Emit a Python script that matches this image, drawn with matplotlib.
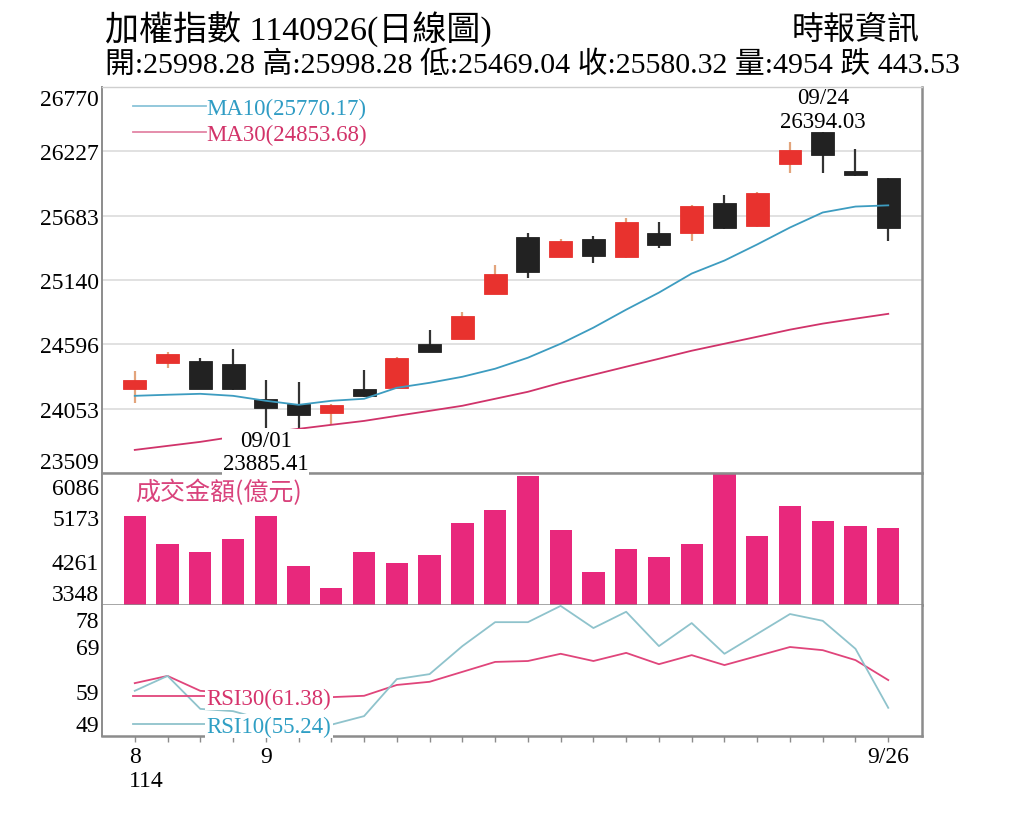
import numpy as np
import matplotlib.pyplot as plt
from matplotlib.transforms import ScaledTranslation

plt.rcParams['font.family'] = ['Liberation Serif', 'Noto Sans CJK TC']

dates = ['08/26', '08/27', '08/28', '08/29', '09/01', '09/02', '09/03', '09/04',
         '09/05', '09/08', '09/09', '09/10', '09/11', '09/12', '09/15', '09/16',
         '09/17', '09/18', '09/19', '09/22', '09/23', '09/24', '09/25', '09/26']

opens = [24220, 24440, 24457, 24432, 24136, 24093, 24017, 24220, 24229, 24601, 24644, 25025,
         25499, 25338, 25490, 25330, 25533, 25533, 25787, 25592, 26117, 26390, 26058, 25998.28]
highs = [24373, 24534, 24483, 24559, 24297, 24280, 24090, 24381, 24490, 24720, 24872, 25262,
         25533, 25482, 25507, 25660, 25626, 25770, 25854, 25880, 26303, 26394.03, 26244, 25998.28]
lows = [24102, 24398, 24217, 24212, 23885.41, 23890, 23915, 24155, 24225, 24528, 24640, 25020,
        25160, 25335, 25279, 25325, 25414, 25465, 25570, 25588, 26041, 26041, 26020, 25469.04]
closes = [24297, 24517, 24220, 24218, 24060, 24000, 24085, 24161, 24483, 24534, 24838, 25186,
          25211, 25465, 25346, 25626, 25431, 25761, 25575, 25871, 26235, 26193, 26023.85, 25580.32]

ma10 = [24161, 24170, 24178, 24161, 24119, 24085, 24119, 24136, 24229, 24271, 24322, 24390,
        24483, 24601, 24737, 24889, 25033, 25194, 25304, 25440, 25583, 25710, 25760, 25770.17]
ma30 = [23704, 23738, 23772, 23814, 23848, 23882, 23916, 23949, 23992, 24034, 24077, 24136,
        24195, 24271, 24339, 24407, 24474, 24542, 24601, 24660, 24720, 24771, 24813, 24853.68]

volume = [5194, 4613, 4447, 4717, 5194, 4157, 3701, 4447, 4219, 4385, 5049, 5318,
          6020, 4904, 4032, 4509, 4344, 4613, 6086, 4779, 5401, 5090, 4986, 4954]

rsi10 = [59.0, 62.3, 55.0, 54.5, 52.5, 51.0, 51.5, 53.4, 61.6, 62.7, 68.9, 74.2,
         74.2, 77.8, 72.9, 76.5, 68.9, 74.0, 67.2, 71.6, 76.0, 74.5, 68.3, 55.24]
rsi30 = [60.7, 62.3, 59.0, 58.5, 58.0, 57.5, 57.6, 57.9, 60.3, 61.0, 63.2, 65.4,
         65.6, 67.2, 65.6, 67.4, 64.9, 66.9, 64.7, 66.7, 68.7, 68.0, 65.8, 61.38]

price_ticks = [23509, 24053, 24596, 25140, 25683, 26227, 26770]
vol_ticks = [3348, 4261, 5173, 6086]
rsi_ticks = [49, 59, 69, 78]
x_labels = {0: '8\n114', 4: '9', 23: '9/26'}

o = np.array(opens)
h = np.array(highs)
l = np.array(lows)
c = np.array(closes)
x = np.arange(len(dates))

RED = '#e8322e'
BLACK = '#222222'
GRAY = '#8c8c8c'
FS = 17

fig = plt.figure(figsize=(10.24, 8.2), dpi=100)
left, width = 102 / 1024, 820 / 1024
ax1 = fig.add_axes([left, 1 - 474 / 820, width, 386 / 820])
ax2 = fig.add_axes([left, 1 - 606 / 820, width, 132 / 820])
ax3 = fig.add_axes([left, 1 - 737 / 820, width, 131 / 820])
ax1.set_zorder(3)

for ax in (ax1, ax2, ax3):
    ax.set_xlim(-1.0, 24.03)
    ax.tick_params(axis='y', length=0, pad=2, labelsize=FS)
    for s in ax.spines.values():
        s.set_color(GRAY)
        s.set_linewidth(1.8)
    ax.spines['left'].set_linewidth(1.4)

ax1.spines['top'].set_color('#cfcfcf')
ax1.spines['top'].set_linewidth(1.0)
ax2.spines['top'].set_visible(False)
ax3.spines['top'].set_visible(False)

# --- price panel ---
up = c >= o
body_col = np.where(up, RED, BLACK)
wick_col = np.where(up, '#e3a47c', '#333333')
ax1.vlines(x, l, h, colors=wick_col, lw=1.6, zorder=2)
ax1.bar(x, np.abs(c - o), bottom=np.minimum(o, c), width=0.7, color=body_col,
        edgecolor=body_col, lw=0.6, zorder=3)
l10, = ax1.plot(x, ma10, color='#3d9cc0', lw=1.3, zorder=4,
                label=f'MA10({ma10[-1]:.2f})')
l30, = ax1.plot(x, ma30, color='#d0336a', lw=1.3, zorder=4,
                label=f'MA30({ma30[-1]:.2f})')
ax1.set_ylim(price_ticks[0], price_ticks[-1])
ax1.set_yticks(price_ticks)
ax1.set_xticks([])
ax1.grid(axis='y', color='#dedede', lw=1.3)
ax1.set_axisbelow(True)
leg1 = ax1.legend(handles=[l10, l30], loc='upper left', bbox_to_anchor=(0.038, 0.972),
                  frameon=False, fontsize=16.5, handlelength=3.2, handletextpad=0.0,
                  labelspacing=0.2, borderpad=0, borderaxespad=0,
                  labelcolor=['#2f9cc4', '#d23369'])
for ln in leg1.get_lines():
    ln.set_alpha(0.6)

lo_i = int(np.argmin(l))
hi_i = int(np.argmax(h))
ax1.annotate(f'{dates[lo_i]}\n{l[lo_i]:.2f}', xy=(lo_i, l[lo_i]), xytext=(0, -1),
             textcoords='offset points', ha='center', va='top', fontsize=16.5,
             linespacing=1.15, annotation_clip=False, zorder=6,
             bbox=dict(facecolor='white', edgecolor='none', pad=0.5))
ax1.annotate(f'{dates[hi_i]}\n{h[hi_i]:.2f}', xy=(hi_i, h[hi_i]), xytext=(0, 0),
             textcoords='offset points', ha='center', va='bottom', fontsize=16.5,
             linespacing=1.15, annotation_clip=False, zorder=6)

# --- volume panel ---
ax2.bar(x, volume, width=0.68, color='#e8287c', zorder=2)
ax2.set_ylim(vol_ticks[0], vol_ticks[-1])
ax2.set_yticks(vol_ticks)
ax2.set_xticks([])
ax2.text(0.04, 0.86, '成交金額(億元)', transform=ax2.transAxes, color='#d9437c',
         fontsize=18, ha='left', va='center', family=['Noto Sans CJK TC'])

# --- RSI panel ---
r30, = ax3.plot(x, rsi30, color='#e0457b', lw=1.3, label=f'RSI30({rsi30[-1]:.2f})')
r10, = ax3.plot(x, rsi10, color='#8fc3cc', lw=1.3, label=f'RSI10({rsi10[-1]:.2f})')
ax3.set_ylim(rsi_ticks[0], rsi_ticks[-1])
ax3.set_yticks(rsi_ticks)
leg3 = ax3.legend(handles=[r30, r10], loc='upper left', bbox_to_anchor=(0.038, 0.37),
                  frameon=False, fontsize=16.5, handlelength=3.2, handletextpad=0.0,
                  labelspacing=0.3, borderpad=0, borderaxespad=0,
                  labelcolor=['#d6336c', '#2f9fc4'])
leg3.set_zorder(5)
for t in leg3.get_texts():
    t.set_bbox(dict(facecolor='white', edgecolor='none', pad=1.0))

ax3.set_xticks(x)
ax3.set_xticklabels([x_labels.get(i, '') for i in x], fontsize=FS)
ax3.tick_params(axis='x', length=4, width=1, color=GRAY, pad=3)
first = ax3.get_xticklabels()[0]
first.set_horizontalalignment('left')
first.set_multialignment('left')
first.set_transform(first.get_transform() + ScaledTranslation(-6 / 100, 0, fig.dpi_scale_trans))

for ax, shift in ((ax1, 2), (ax2, 5), (ax3, 6)):
    labs = ax.get_yticklabels()
    labs[0].set_verticalalignment('bottom')
    labs[-1].set_verticalalignment('top')
    labs[-1].set_transform(labs[-1].get_transform()
                           + ScaledTranslation(0, -shift / 100, fig.dpi_scale_trans))

# --- header ---
fig.text(105 / 1024, 1 - 30 / 820, '加權指數 1140926(日線圖)', fontsize=24.5,
         ha='left', va='center')
fig.text(920 / 1024, 1 - 30 / 820, '時報資訊', fontsize=23, ha='right', va='center',
         family=['Noto Sans CJK TC'])
fig.text(105 / 1024, 1 - 65 / 820,
         f'開:{o[-1]:.2f} 高:{h[-1]:.2f} 低:{l[-1]:.2f} 收:{c[-1]:.2f} '
         f'量:{volume[-1]} 跌 {c[-2] - c[-1]:.2f}',
         fontsize=21.5, ha='left', va='center')

fig.savefig('out.png', dpi=100, facecolor='white')
